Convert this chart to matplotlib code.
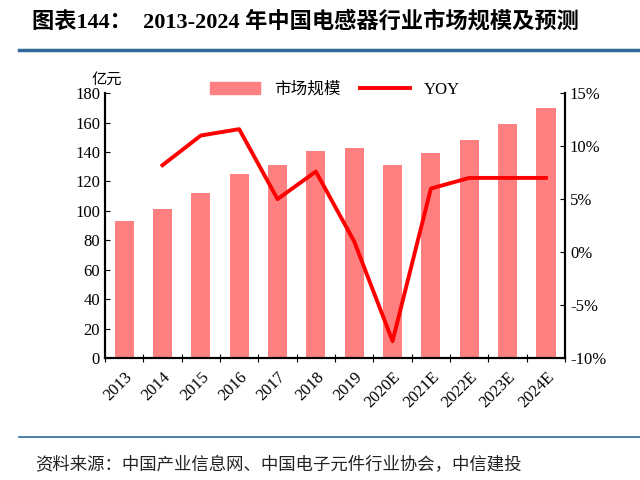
import matplotlib
matplotlib.use('Agg')
import matplotlib.pyplot as plt
from matplotlib.lines import Line2D

plt.rcParams['font.family'] = ['Liberation Serif', 'Noto Sans CJK SC']

years = ['2013', '2014', '2015', '2016', '2017', '2018', '2019',
         '2020E', '2021E', '2022E', '2023E', '2024E']
market = [93, 101, 112, 125, 131, 141, 143, 131, 139, 148, 159, 170]
yoy_years = years[1:]
yoy = [8.2, 11.0, 11.6, 5.0, 7.6, 1.0, -8.4, 6.0, 7.0, 7.0, 7.0]

fig = plt.figure(figsize=(6.4, 4.8), dpi=100)
ax = fig.add_axes([0.164, 0.254, 0.719, 0.552])
ax2 = ax.twinx()

x = list(range(len(years)))
ax.bar(x, market, width=0.5, color='#ff8080', label='市场规模', zorder=2)
ax2.plot(x[1:], yoy, color='#ff0000', lw=2.8, label='YOY')

ax.set_xlim(-0.5, len(years) - 0.5)
ax.set_ylim(0, 180)
ax.set_yticks(range(0, 181, 20))
ax2.set_ylim(-10, 15)
ax2.set_yticks(range(-10, 16, 5))
ax2.set_yticklabels([f'{v}%' for v in range(-10, 16, 5)])
ax.set_xticks([i - 0.5 for i in x] + [len(years) - 0.5], minor=False)
ax.set_xticklabels([])
ax.set_xticks(x, minor=True)
ax.set_xticklabels(years, minor=True, rotation=45, ha='right', va='top',
                   rotation_mode='anchor')
ax.tick_params(axis='x', which='minor', length=0, labelsize=12, pad=8)
ax.tick_params(axis='x', which='major', direction='inout', length=6)
ax.tick_params(axis='y', direction='in', labelsize=12)
ax2.tick_params(axis='y', direction='in', labelsize=12)
for a in (ax, ax2):
    a.spines['top'].set_visible(False)
    for s in ('left', 'right', 'bottom'):
        a.spines[s].set_linewidth(1.5)

ax.text(-0.03, 1.02, '亿元', transform=ax.transAxes, fontsize=11,
        family=['Noto Sans CJK SC'], ha='left', va='bottom')

handles = [plt.Rectangle((0, 0), 1, 1, color='#ff8080'),
           Line2D([], [], color='#ff0000', lw=2.8)]
ax.legend(handles, ['市场规模', 'YOY'], loc='upper center', ncol=2,
          frameon=False, fontsize=12, bbox_to_anchor=(0.5, 1.1),
          handlelength=3, columnspacing=1.2)

fig.text(0.05, 0.955, '图表144：  2013-2024 年中国电感器行业市场规模及预测',
         fontsize=16, fontweight='bold', ha='left', va='center')
fig.add_artist(Line2D([0.03, 1.0], [0.895, 0.895], color='#2f6a9a', lw=2.5))
fig.add_artist(Line2D([0.03, 1.0], [0.09, 0.09], color='#2f6a9a', lw=1.2))
fig.text(0.055, 0.03, '资料来源：中国产业信息网、中国电子元件行业协会，中信建投',
         fontsize=12.5, style='italic', ha='left', va='center', color='#222222')

fig.savefig('out.png', dpi=100)
